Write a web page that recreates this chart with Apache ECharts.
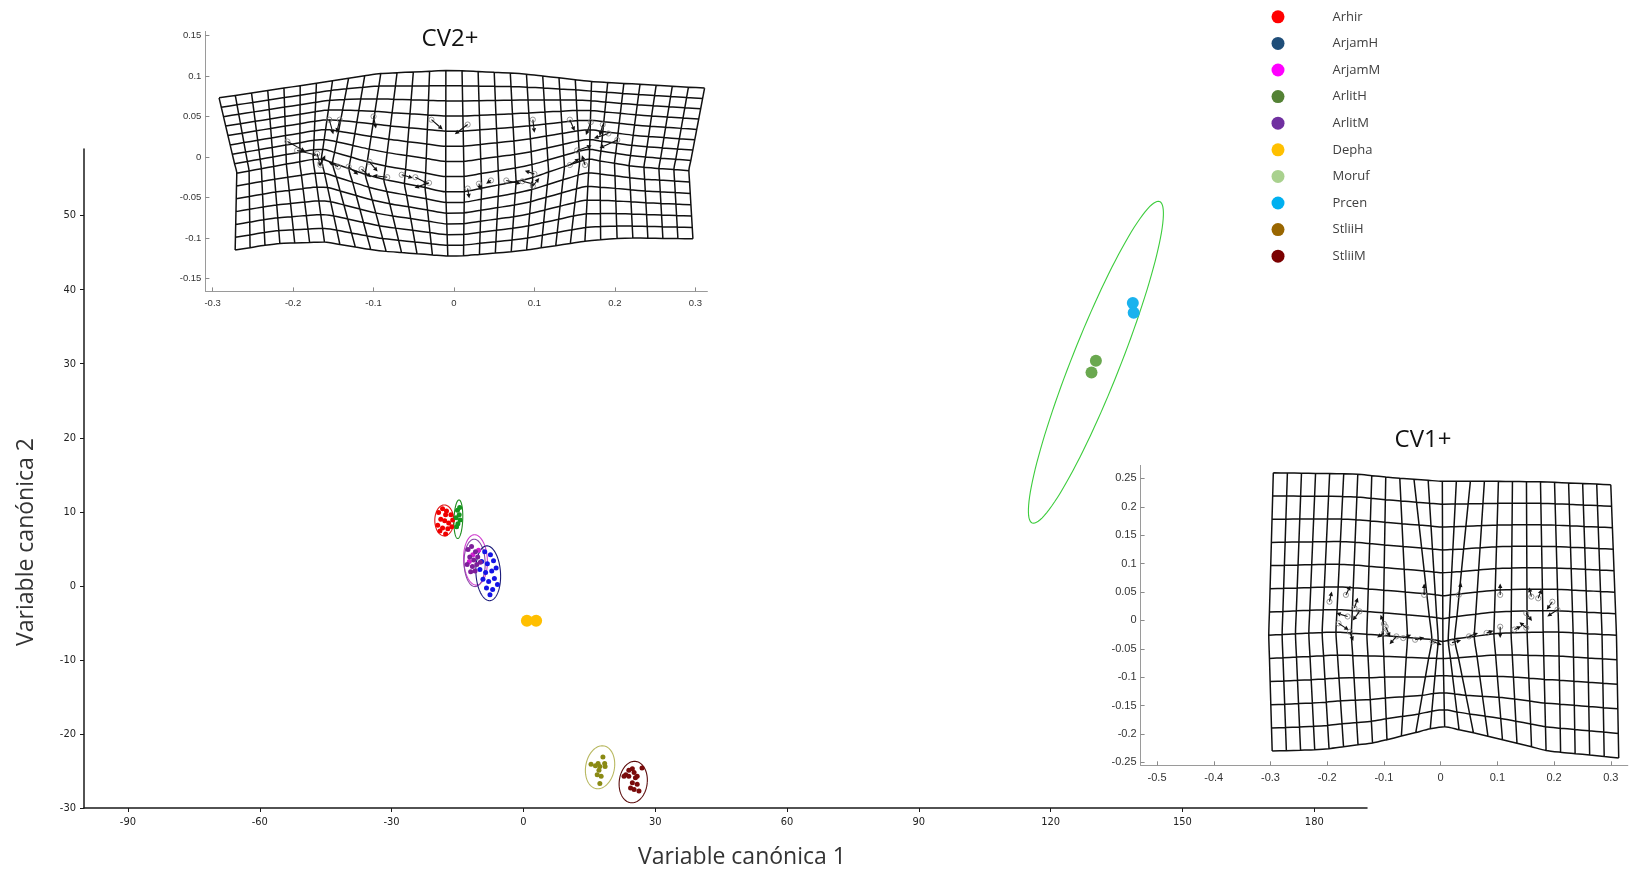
<!DOCTYPE html>
<html>
<head>
<meta charset="utf-8">
<script src="https://cdn.jsdelivr.net/npm/echarts@6/dist/echarts.min.js"></script>
<style>
  html, body { margin: 0; padding: 0; background: #fff; }
  #chart { width: 1642px; height: 872px; }
</style>
</head>
<body>
<div id="chart"></div>
<script>
// ---- Canonical variate scores (CV1, CV2) per group ----
const groupNames = ['Arhir', 'ArjamH', 'ArjamM', 'ArlitH', 'ArlitM', 'Depha', 'Moruf', 'Prcen', 'StliiH', 'StliiM'];

const arhirPts = [[-19.3, 9.9], [-18.4, 10.4], [-17.5, 10.1], [-16.5, 9.6], [-18.8, 9.0], [-17.9, 8.8], [-17.0, 8.5], [-16.1, 8.9],
  [-19.5, 8.2], [-18.4, 7.8], [-17.2, 7.7], [-16.3, 8.0], [-17.7, 9.6], [-19.0, 7.4], [-17.7, 7.0]];
const arjamHPts = [[-8.8, 4.6], [-7.5, 4.2], [-9.5, 3.3], [-8.2, 3.0], [-6.8, 3.4], [-9.9, 2.2], [-8.6, 1.8], [-7.2, 2.0],
  [-6.2, 2.4], [-9.2, 0.9], [-7.9, 0.6], [-6.6, 1.0], [-8.4, -0.3], [-7.0, -0.5], [-7.6, -1.2], [-5.9, 0.2]];
const arjamMPts = [[-11.5, 4.2], [-10.2, 4.8], [-12.3, 3.3]];
const arlitHPts = [[-15.0, 10.2], [-14.6, 9.6], [-15.3, 9.2], [-14.4, 8.9], [-14.9, 8.4], [-14.5, 10.6], [-15.2, 8.0]];
const arlitMPts = [[-12.6, 4.9], [-11.8, 5.3], [-10.9, 4.6], [-12.2, 3.9], [-11.3, 3.5], [-10.4, 3.9], [-12.8, 2.9], [-11.6, 2.6],
  [-10.6, 2.9], [-12.0, 1.9], [-9.8, 3.2], [-11.0, 2.0]];
const dephaPts = [[0.8, -4.7], [2.9, -4.7]];
const morufPts = [[130.3, 30.4], [129.3, 28.8]];
const prcenPts = [[138.7, 38.2], [138.9, 36.9]];
const stliiHPts = [[15.4, -24.1], [18.1, -23.1], [17.0, -24.0], [17.4, -24.4], [18.5, -24.0], [18.6, -24.4], [17.2, -24.9],
  [16.8, -25.5], [17.7, -25.7], [17.4, -26.7], [16.4, -24.3]];
const stliiMPts = [[23.3, -25.5], [24.0, -25.7], [24.8, -24.7], [25.2, -25.2], [25.5, -25.9], [25.9, -25.7], [24.8, -26.6],
  [25.9, -26.8], [25.2, -27.5], [26.3, -27.7], [27.0, -24.6], [24.0, -24.9], [22.9, -25.7], [24.4, -27.3]];

// Confidence ellipses: centre (cx, cy) and two conjugate semi-axes (ax, ay), (bx, by), in CV units
const ellArhir  = [-18.0, 8.84, 2.16, 0, 0, 2.09];
const ellArlitH = [-14.8, 9.0, 1.0, 0, 0.15, 2.6];
const ellArjamM = [-10.9, 3.5, 2.7, 0, -0.2, 3.4];
const ellArlitM = [-11.1, 3.1, 2.4, 0, -0.1, 3.2];
const ellArjamH = [-8.0, 1.7, 2.8, 0, -0.3, 3.7];
const ellStliiH = [17.45, -24.5, 3.3, 0, 0.5, 2.9];
const ellStliiM = [25.0, -26.5, 3.2, 0, 0.3, 2.8];
const ellMoruf  = [130.3, 30.2, 14.5, 21.7, 5.08, -1.19];

// Axis ticks
const xTicks = [-90, -60, -30, 0, 30, 60, 90, 120, 150, 180];
const yTicks = [-30, -20, -10, 0, 10, 20, 30, 40, 50];

// ---- Deformation grids: edge / landmark-row profiles as [u, x, y] ----
const cv2Top = [[0, -0.292, 0.073], [0.2, -0.171, 0.091], [0.33, -0.093, 0.103], [0.48, -0.002, 0.107], [0.62, 0.082, 0.103],
  [0.77, 0.173, 0.093], [1, 0.3115, 0.085]];
const cv2Mid = [[0, -0.27, -0.02], [0.12, -0.215, -0.01], [0.2, -0.175, -0.003], [0.23, -0.166, -0.002], [0.26, -0.155, -0.006],
  [0.35, -0.10, -0.025], [0.48, 0, -0.045], [0.62, 0.09, -0.028], [0.73, 0.155, -0.006], [0.76, 0.166, -0.002],
  [0.79, 0.176, -0.004], [0.88, 0.225, -0.012], [1, 0.292, -0.017]];
const cv2Bottom = [[0, -0.272, -0.115], [0.09, -0.222, -0.107], [0.2, -0.161, -0.105], [0.32, -0.092, -0.116], [0.48, 0, -0.123],
  [0.62, 0.083, -0.116], [0.78, 0.17, -0.103], [0.85, 0.213, -0.100], [1, 0.297, -0.101]];
const cv2Cells = [30, 14, 8]; // columns, rows, landmark row

const cv1Top = [[0, -0.295, 0.260], [0.24, -0.152, 0.258], [0.36, -0.081, 0.251], [0.5, 0.003, 0.245], [0.65, 0.092, 0.245],
  [0.8, 0.181, 0.244], [1, 0.300, 0.239]];
const cv1Mid = [[0, -0.303, -0.026], [0.2, -0.19, -0.020], [0.33, -0.105, -0.026], [0.42, -0.012, -0.034], [0.5, 0.004, -0.037],
  [0.58, 0.022, -0.033], [0.68, 0.105, -0.022], [0.82, 0.20, -0.020], [1, 0.310, -0.026]];
const cv1Bottom = [[0, -0.297, -0.230], [0.15, -0.207, -0.227], [0.3, -0.115, -0.215], [0.49, 0.001, -0.186], [0.6, 0.068, -0.200],
  [0.8, 0.191, -0.230], [1, 0.314, -0.242]];
const cv1Cells = [24, 12, 7];

// Landmarks with displacement vectors: [x, y, dx, dy]
const cv2Landmarks = [[-0.207, 0.019, 0.022, -0.012], [-0.195, 0.008, 0.025, -0.006], [-0.170, 0.004, 0.004, -0.016],
  [-0.166, -0.010, 0.006, 0.012], [-0.155, 0.046, 0.005, -0.018], [-0.142, 0.046, -0.004, -0.016], [-0.144, -0.012, -0.012, 0.006],
  [-0.131, -0.012, 0.012, -0.01], [-0.115, -0.015, 0.012, -0.01], [-0.105, -0.006, 0.01, -0.012], [-0.100, 0.050, 0.003, -0.015],
  [-0.083, -0.025, -0.018, 0.002], [-0.065, -0.022, 0.014, -0.004], [-0.048, -0.025, 0.016, -0.008], [-0.031, -0.032, -0.018, -0.006],
  [-0.028, 0.046, 0.014, -0.012], [0.017, 0.040, -0.016, -0.012], [0.017, -0.039, 0.002, -0.012], [0.031, -0.033, 0.002, -0.008],
  [0.046, -0.029, -0.006, -0.004], [0.065, -0.029, 0.018, -0.004], [0.085, -0.030, 0.016, -0.004], [0.098, -0.036, 0.008, 0.01],
  [0.100, -0.021, -0.012, 0.004], [0.098, 0.046, 0.002, -0.016], [0.144, 0.046, 0.006, -0.014], [0.144, -0.010, 0.012, 0.008],
  [0.163, -0.010, -0.004, 0.012], [0.170, 0.043, -0.006, -0.016], [0.185, 0.040, -0.004, -0.014], [0.192, 0.029, -0.018, -0.006],
  [0.203, 0.021, -0.022, -0.01], [0.153, 0.008, 0.018, 0.006]];
const cv1Landmarks = [[-0.196, 0.033, 0.004, 0.018], [-0.167, 0.045, 0.008, 0.016], [-0.152, 0.022, 0.006, 0.018],
  [-0.143, 0.016, -0.012, -0.016], [-0.164, 0.007, -0.02, 0.006], [-0.18, -0.005, 0.018, -0.012], [-0.16, -0.02, 0.006, -0.016],
  [-0.1, -0.006, -0.006, 0.016], [-0.097, -0.011, 0.008, -0.018], [-0.1, -0.022, -0.012, -0.008], [-0.078, -0.028, -0.012, -0.014],
  [-0.066, -0.031, 0.014, 0.006], [-0.045, -0.034, 0.016, 0.004], [-0.029, 0.045, 0.0, 0.02], [0.032, 0.045, 0.004, 0.022],
  [-0.014, -0.037, 0.016, -0.006], [0.02, -0.039, 0.016, 0.004], [0.05, -0.028, 0.016, 0.006], [0.081, -0.022, 0.012, 0.004],
  [0.105, 0.045, 0.0, 0.02], [0.105, -0.011, 0.0, -0.02], [0.13, -0.016, 0.012, 0.006], [0.151, -0.013, -0.012, 0.01],
  [0.160, 0.042, -0.004, 0.016], [0.172, 0.039, 0.006, 0.016], [0.197, 0.033, -0.01, -0.014], [0.206, 0.019, -0.018, -0.012],
  [0.151, 0.013, 0.01, -0.014]];

const cv2XTicks = [-0.3, -0.2, -0.1, 0, 0.1, 0.2, 0.3];
const cv2YTicks = [-0.15, -0.1, -0.05, 0, 0.05, 0.1, 0.15];
const cv1XTicks = [-0.5, -0.4, -0.3, -0.2, -0.1, 0, 0.1, 0.2, 0.3];
const cv1YTicks = [-0.25, -0.2, -0.15, -0.1, -0.05, 0, 0.05, 0.1, 0.15, 0.2, 0.25];

// ---- Styling ----
const legendColors = ['#ff0000', '#1f4e79', '#ff00ff', '#548235', '#7030a0', '#ffc000', '#a9d18e', '#00b0f0', '#996600', '#7b0000'];
const markColors = ['#f00000', '#1414e6', '#d21ed2', '#14961e', '#7d1f9a', '#ffbf00', '#6aa84f', '#1ab2ee', '#8a8a14', '#7a0a0a'];
const markSizes = [5, 5, 5, 5, 5, 12, 12, 12, 5, 5];
const tickFont = '"Liberation Sans Narrow", "DejaVu Sans Condensed", "Liberation Sans", Arial, sans-serif';
const textFont = '"Open Sans", "Noto Sans", sans-serif';

const pointSets = [arhirPts, arjamHPts, arjamMPts, arlitHPts, arlitMPts, dephaPts, morufPts, prcenPts, stliiHPts, stliiMPts];
const ellipseSets = [
  { v: ellArhir,  color: '#e01818' },
  { v: ellArlitH, color: '#1e8c1e' },
  { v: ellArjamM, color: '#d040d0' },
  { v: ellArlitM, color: '#8a4aa8' },
  { v: ellArjamH, color: '#1c1c7a' },
  { v: ellStliiH, color: '#b8b860' },
  { v: ellStliiM, color: '#5a0a0a' },
  { v: ellMoruf,  color: '#3ccc3c' }
];

// ---- Helpers ----
function curveAt(curve, u) {
  for (let k = 0; k < curve.length - 1; k++) {
    const a = curve[k], b = curve[k + 1];
    if (u <= b[0] || k === curve.length - 2) {
      const t = (u - a[0]) / (b[0] - a[0]);
      return [a[1] + (b[1] - a[1]) * t, a[2] + (b[2] - a[2]) * t];
    }
  }
}
// Warped mesh spanned between the top edge, landmark row and bottom edge
function meshPath(top, mid, bottom, cells) {
  const [nCols, nRows, midRow] = cells;
  const nodes = [];
  for (let r = 0; r <= nRows; r++) {
    const row = [];
    for (let c = 0; c <= nCols; c++) {
      const u = c / nCols;
      let A, B, t;
      if (r <= midRow) { A = curveAt(top, u); B = curveAt(mid, u); t = r / midRow; }
      else { A = curveAt(mid, u); B = curveAt(bottom, u); t = (r - midRow) / (nRows - midRow); }
      row.push([A[0] + (B[0] - A[0]) * t, A[1] + (B[1] - A[1]) * t]);
    }
    nodes.push(row);
  }
  const out = [];
  nodes.forEach(row => { row.forEach(p => out.push(p)); out.push(['-', '-']); });
  for (let c = 0; c <= nCols; c++) { nodes.forEach(row => out.push(row[c])); out.push(['-', '-']); }
  return out;
}
function renderEllipse(params, api) {
  const cx = api.value(0), cy = api.value(1), ax = api.value(2), ay = api.value(3), bx = api.value(4), by = api.value(5);
  const pts = [];
  for (let k = 0; k <= 120; k++) {
    const t = k / 120 * 2 * Math.PI;
    pts.push(api.coord([cx + ax * Math.cos(t) + bx * Math.sin(t), cy + ay * Math.cos(t) + by * Math.sin(t)]));
  }
  return { type: 'polyline', shape: { points: pts }, style: { fill: 'none', stroke: api.visual('color'), lineWidth: 1.1 } };
}
function renderArrow(params, api) {
  const x = api.value(0), y = api.value(1);
  const p0 = api.coord([x, y]);
  const p1 = api.coord([x + api.value(2), y + api.value(3)]);
  const ang = Math.atan2(p1[1] - p0[1], p1[0] - p0[0]);
  const h = 4.5, w = 2.2;
  const base = [p1[0] - h * Math.cos(ang), p1[1] - h * Math.sin(ang)];
  const l = [base[0] + w * Math.sin(ang), base[1] - w * Math.cos(ang)];
  const r = [base[0] - w * Math.sin(ang), base[1] + w * Math.cos(ang)];
  return {
    type: 'group',
    children: [
      { type: 'circle', shape: { cx: p0[0], cy: p0[1], r: 2.6 }, style: { fill: 'none', stroke: '#808080', lineWidth: 0.8 } },
      { type: 'line', shape: { x1: p0[0], y1: p0[1], x2: base[0], y2: base[1] }, style: { stroke: '#111', lineWidth: 1.1 } },
      { type: 'polygon', shape: { points: [p1, l, r] }, style: { fill: '#111' } }
    ]
  };
}

function insetAxis(gridIndex, min, max, ticks, fontSize, margin) {
  return {
    type: 'value', gridIndex, min, max,
    axisLine: { show: true, onZero: false, lineStyle: { color: '#9a9a9a', width: 1 } },
    axisTick: { show: true, inside: true, length: 4, customValues: ticks, lineStyle: { color: '#8a8a8a' } },
    axisLabel: { customValues: ticks, fontSize, color: '#333', margin, fontFamily: 'Arial, "Liberation Sans", sans-serif' },
    splitLine: { show: false }
  };
}

// ---- Series ----
const series = [];
ellipseSets.forEach((e, i) => {
  series.push({
    type: 'custom', name: 'ellipse' + i, xAxisIndex: 0, yAxisIndex: 0,
    renderItem: renderEllipse, itemStyle: { color: e.color },
    encode: { x: 0, y: 1 }, data: [e.v], silent: true, z: 2
  });
});
groupNames.forEach((name, i) => {
  series.push({
    type: 'scatter', name, xAxisIndex: 0, yAxisIndex: 0,
    data: pointSets[i], symbol: 'circle', symbolSize: markSizes[i],
    itemStyle: { color: markColors[i], opacity: 1 }, z: 3
  });
});
series.push({
  type: 'line', name: 'cv2mesh', xAxisIndex: 1, yAxisIndex: 1,
  data: meshPath(cv2Top, cv2Mid, cv2Bottom, cv2Cells),
  showSymbol: false, symbol: 'none', smooth: 0.25, connectNulls: false,
  lineStyle: { color: '#111', width: 1.5 }, silent: true, z: 4
});
series.push({
  type: 'custom', name: 'cv2arrows', xAxisIndex: 1, yAxisIndex: 1,
  renderItem: renderArrow, encode: { x: 0, y: 1 }, data: cv2Landmarks, silent: true, z: 5
});
series.push({
  type: 'line', name: 'cv1mesh', xAxisIndex: 2, yAxisIndex: 2,
  data: meshPath(cv1Top, cv1Mid, cv1Bottom, cv1Cells),
  showSymbol: false, symbol: 'none', smooth: 0.25, connectNulls: false,
  lineStyle: { color: '#111', width: 1.5 }, silent: true, z: 4
});
series.push({
  type: 'custom', name: 'cv1arrows', xAxisIndex: 2, yAxisIndex: 2,
  renderItem: renderArrow, encode: { x: 0, y: 1 }, data: cv1Landmarks, silent: true, z: 5
});

const chart = echarts.init(document.getElementById('chart'), null, { renderer: 'canvas' });
chart.setOption({
  backgroundColor: '#ffffff',
  animation: false,
  grid: [
    { left: 84, right: 275, top: 149, bottom: 64 },
    { left: 205.4, width: 502, top: 31.4, height: 260 },
    { left: 1140.6, width: 487.2, top: 465.4, height: 299.9 }
  ],
  xAxis: [
    {
      type: 'value', gridIndex: 0, min: -100, max: 192,
      axisLine: { show: true, onZero: false, lineStyle: { color: '#1a1a1a', width: 1.5 } },
      axisTick: { show: true, length: 4, customValues: xTicks, lineStyle: { color: '#1a1a1a' } },
      axisLabel: { customValues: xTicks, fontSize: 11, color: '#222', margin: 9, fontFamily: tickFont },
      splitLine: { show: false }
    },
    insetAxis(1, -0.309, 0.315, cv2XTicks, 9.5, 7),
    insetAxis(2, -0.529, 0.33, cv1XTicks, 11, 7)
  ],
  yAxis: [
    {
      type: 'value', gridIndex: 0, min: -30, max: 59,
      axisLine: { show: true, onZero: false, lineStyle: { color: '#1a1a1a', width: 1.5 } },
      axisTick: { show: true, length: 4, customValues: yTicks, lineStyle: { color: '#1a1a1a' } },
      axisLabel: { customValues: yTicks, fontSize: 11, color: '#222', margin: 8, fontFamily: tickFont },
      splitLine: { show: false }
    },
    insetAxis(1, -0.166, 0.155, cv2YTicks, 9.5, 4),
    insetAxis(2, -0.255, 0.273, cv1YTicks, 11, 4)
  ],
  legend: {
    orient: 'vertical', left: 1271.5, top: 10.3, padding: 0,
    itemWidth: 13, itemHeight: 13, itemGap: 13.6, icon: 'circle', selectedMode: false,
    textStyle: { fontFamily: textFont, fontSize: 13, color: '#404040', lineHeight: 13, padding: [0, 0, 0, 43] },
    data: groupNames.map((n, i) => ({ name: n, itemStyle: { color: legendColors[i] } }))
  },
  graphic: [
    { type: 'text', x: 450, y: 38.7, style: { text: 'CV2+', font: '24px ' + textFont, fill: '#111', align: 'center', verticalAlign: 'middle' } },
    { type: 'text', x: 1423, y: 440, style: { text: 'CV1+', font: '24px ' + textFont, fill: '#111', align: 'center', verticalAlign: 'middle' } },
    { type: 'text', x: 742, y: 857, style: { text: 'Variable canónica 1', font: '23px ' + textFont, fill: '#333', align: 'center', verticalAlign: 'middle' } },
    { type: 'text', x: 26, y: 542, rotation: Math.PI / 2, style: { text: 'Variable canónica 2', font: '23px ' + textFont, fill: '#333', align: 'center', verticalAlign: 'middle' } }
  ],
  series
});
</script>
</body>
</html>
